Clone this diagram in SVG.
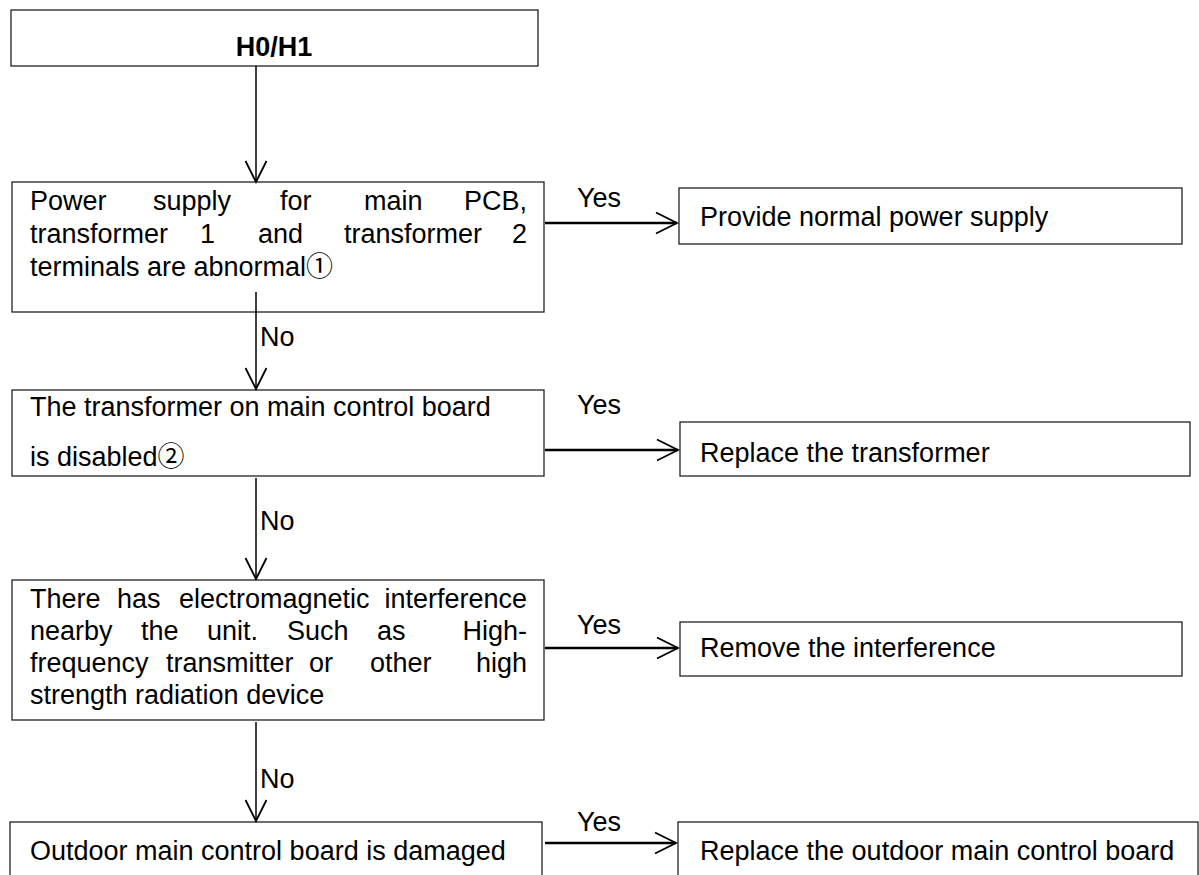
<svg xmlns="http://www.w3.org/2000/svg" width="1199" height="875" viewBox="0 0 1199 875">
<defs>
<style>
.box{fill:#fff;stroke:#222;stroke-width:1.3}
.t{font-family:"Liberation Sans",Arial,"Noto Sans CJK SC",sans-serif;font-size:27px;fill:#000}
.b{font-weight:bold}
.v{stroke:#000;stroke-width:1.5;fill:none}
.h{stroke:#000;stroke-width:2.6;fill:none}
.ah{stroke:#000;stroke-width:1.8;fill:none}
</style>
<marker id="arr" markerUnits="userSpaceOnUse" markerWidth="26" markerHeight="26" refX="22" refY="12" orient="auto" overflow="visible">
<path d="M1,1.5 L22,12 L1,22.5" class="ah"/>
</marker>
</defs>
<rect width="1199" height="875" fill="#fff"/>
<g id="n0">
<rect class="box" x="11" y="10" width="527" height="56"/>
<text class="t b" x="274" y="56" text-anchor="middle">H0/H1</text>
</g>
<g id="n1">
<rect class="box" x="12" y="182" width="532" height="130"/>
<text class="t"><tspan x="30" y="210">Power</tspan><tspan x="153">supply</tspan><tspan x="280">for</tspan><tspan x="364">main</tspan><tspan x="527" text-anchor="end">PCB,</tspan></text>
<text class="t"><tspan x="30" y="243">transformer</tspan><tspan x="200">1</tspan><tspan x="258">and</tspan><tspan x="344">transformer</tspan><tspan x="527" text-anchor="end">2</tspan></text>
<text class="t" x="30" y="276">terminals are abnormal①</text>
</g>
<g id="n2">
<rect class="box" x="679" y="188" width="503" height="56"/>
<text class="t" x="700" y="226">Provide normal power supply</text>
</g>
<g id="n3">
<rect class="box" x="12" y="390" width="532" height="86"/>
<text class="t" x="30" y="416">The transformer on main control board</text>
<text class="t" x="30" y="466">is disabled②</text>
</g>
<g id="n4">
<rect class="box" x="680" y="422" width="510" height="54"/>
<text class="t" x="700" y="462">Replace the transformer</text>
</g>
<g id="n5">
<rect class="box" x="12" y="580" width="532" height="140"/>
<text class="t"><tspan x="30" y="608">There</tspan><tspan x="117">has</tspan><tspan x="179">electromagnetic</tspan><tspan x="527" text-anchor="end">interference</tspan></text>
<text class="t"><tspan x="30" y="640">nearby</tspan><tspan x="141">the</tspan><tspan x="207">unit.</tspan><tspan x="287">Such</tspan><tspan x="377">as</tspan><tspan x="527" text-anchor="end">High-</tspan></text>
<text class="t"><tspan x="30" y="672">frequency</tspan><tspan x="166">transmitter</tspan><tspan x="309">or</tspan><tspan x="370">other</tspan><tspan x="527" text-anchor="end">high</tspan></text>
<text class="t" x="30" y="704">strength radiation device</text>
</g>
<g id="n6">
<rect class="box" x="680" y="622" width="502" height="54"/>
<text class="t" x="700" y="657">Remove the interference</text>
</g>
<g id="n7">
<rect class="box" x="10" y="822" width="532" height="60"/>
<text class="t" x="30" y="860">Outdoor main control board is damaged</text>
</g>
<g id="n8">
<rect class="box" x="678" y="822" width="520" height="60"/>
<text class="t" x="700" y="860">Replace the outdoor main control board</text>
</g>
<g id="connectors">
<line class="v" x1="256" y1="66" x2="256" y2="182" marker-end="url(#arr)"/>
<line class="h" x1="545" y1="223" x2="677" y2="223" marker-end="url(#arr)"/>
<text class="t" x="577" y="207">Yes</text>
<line class="v" x1="256" y1="292" x2="256" y2="389" marker-end="url(#arr)"/>
<text class="t" x="260" y="346">No</text>
<line class="h" x1="545" y1="450" x2="678" y2="450" marker-end="url(#arr)"/>
<text class="t" x="577" y="414">Yes</text>
<line class="v" x1="256" y1="478" x2="256" y2="579" marker-end="url(#arr)"/>
<text class="t" x="260" y="530">No</text>
<line class="h" x1="545" y1="648" x2="678" y2="648" marker-end="url(#arr)"/>
<text class="t" x="577" y="634">Yes</text>
<line class="v" x1="256" y1="722" x2="256" y2="821" marker-end="url(#arr)"/>
<text class="t" x="260" y="788">No</text>
<line class="h" x1="545" y1="843" x2="676" y2="843" marker-end="url(#arr)"/>
<text class="t" x="577" y="831">Yes</text>
</g>
</svg>
